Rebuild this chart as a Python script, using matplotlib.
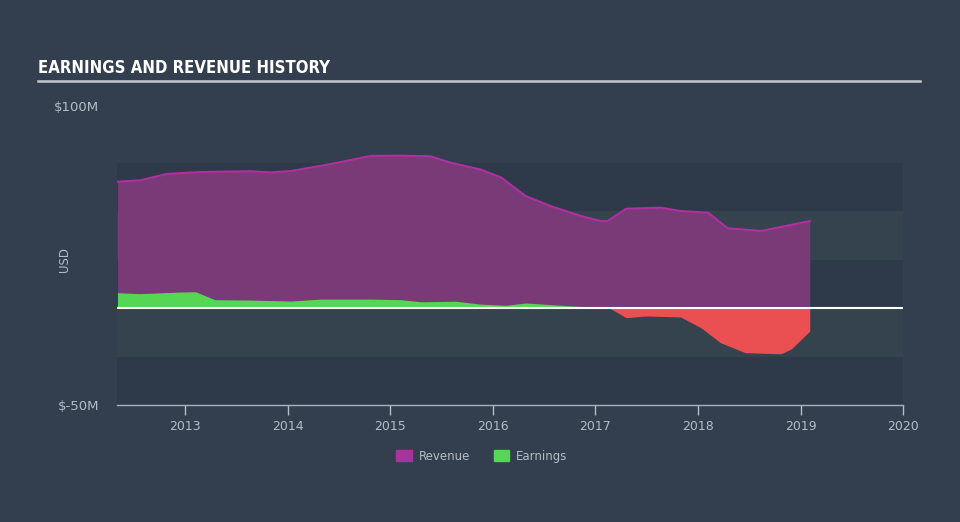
import matplotlib.pyplot as plt
from matplotlib.patches import Patch

# revenue history (decimal year, $M)
rev_years = [2012.34, 2012.56, 2012.82, 2013.15, 2013.63, 2013.83, 2014.03, 2014.42,
             2014.81, 2015.10, 2015.39, 2015.59, 2015.88, 2016.08, 2016.32, 2016.56,
             2016.86, 2017.05, 2017.12, 2017.30, 2017.64, 2017.83, 2018.10, 2018.29,
             2018.62, 2018.81, 2019.09]
revenue = [65.1, 65.8, 69.1, 70.1, 70.5, 69.9, 70.6, 74.2,
           78.4, 78.5, 78.2, 74.9, 71.4, 67.3, 57.7, 52.6,
           47.4, 44.8, 44.8, 51.2, 51.7, 50.0, 49.1, 41.1,
           39.7, 41.8, 44.8]

# earnings history (decimal year, $M)
earn_years = [2012.34, 2012.56, 2012.93, 2013.10, 2013.29, 2013.63, 2014.03, 2014.32,
              2014.81, 2015.10, 2015.30, 2015.64, 2015.88, 2016.13, 2016.32, 2016.52,
              2016.82, 2017.12, 2017.30, 2017.49, 2017.83, 2018.03, 2018.22, 2018.46,
              2018.81, 2018.91, 2019.09]
earnings = [7.9, 7.4, 8.2, 8.4, 4.3, 4.1, 3.6, 4.6,
            4.6, 4.3, 3.2, 3.5, 2.0, 1.4, 2.6, 1.9,
            0.9, 0.5, -5.0, -4.1, -4.6, -10.2, -17.9, -23.0,
            -23.6, -21.1, -11.9]

x_ticks = [2013, 2014, 2015, 2016, 2017, 2018, 2019, 2020]

bg = '#333f4e'
txt = '#b4bcc6'

fig = plt.figure(figsize=(9.6, 5.22), dpi=100, facecolor=bg)
ax = fig.add_axes([0.1219, 0.2241, 0.8188, 0.5575])
ax.set_facecolor(bg)

# bandas de fondo
for lo, hi, c in [(50, 75, '#2e3a49'), (25, 50, '#35434f'), (0, 25, '#2e3a49'),
                  (-25, 0, '#35434f'), (-50, -25, '#2e3a49')]:
    ax.axhspan(lo, hi, color=c, zorder=0, lw=0)

ax.fill_between(rev_years, 0, revenue, color='#7a3977', lw=0, zorder=2)
ax.plot(rev_years, revenue, color='#b0309f', lw=1.5, zorder=3)

pos = [e >= 0 for e in earnings]
neg = [e <= 0 for e in earnings]
ax.fill_between(earn_years, 0, earnings, where=pos, interpolate=True, color='#55d655', lw=0, zorder=4)
ax.fill_between(earn_years, 0, earnings, where=neg, interpolate=True, color='#ea4f51', lw=0, zorder=4)

ax.axhline(0, color='white', lw=1.5, zorder=5)

ax.set_xlim(2012.336, 2020.0)
ax.set_ylim(-50, 100)
ax.set_xticks(x_ticks)
ax.set_xticklabels([str(t) for t in x_ticks])
ax.set_yticks([-50, 100])
ax.set_yticklabels(['$-50M', '$100M'])
ax.tick_params(axis='x', colors=txt, length=7, width=1, direction='out', labelsize=9, pad=4)
ax.tick_params(axis='y', colors=txt, length=0, labelsize=9.5, pad=13)
ax.get_yticklabels()[1].set_va('bottom')
for s in ['top', 'right', 'left']:
    ax.spines[s].set_visible(False)
ax.spines['bottom'].set_color('#a9b2bd')
ax.spines['bottom'].set_linewidth(1)
ax.set_ylabel('USD', color=txt, fontsize=8.5)
ax.yaxis.set_label_coords(-0.058, 0.5)

fig.text(0.04, 0.87, 'EARNINGS AND REVENUE HISTORY', color='white', fontsize=12,
         fontweight='bold', fontstretch='condensed', ha='left', va='center')
fig.add_artist(plt.Line2D([0.04, 0.958], [0.845, 0.845], color='#c5c9ce', lw=1.8))

handles = [Patch(color='#a5349c', label='Revenue'), Patch(color='#55d655', label='Earnings')]
leg = fig.legend(handles=handles, loc='center', bbox_to_anchor=(0.502, 0.126), ncol=2,
                 frameon=False, fontsize=8.5, handlelength=1.3, handleheight=1.1,
                 columnspacing=2.0, handletextpad=0.6)
for t in leg.get_texts():
    t.set_color(txt)

fig.savefig('out.png', dpi=100, facecolor=bg)
